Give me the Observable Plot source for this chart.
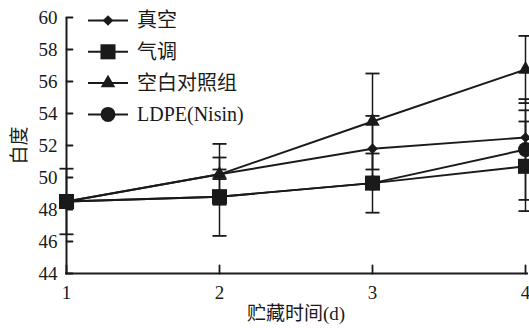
<!DOCTYPE html>
<html>
<head>
<meta charset="utf-8">
<script src="https://cdn.jsdelivr.net/npm/d3@7"></script>
<script src="https://cdn.jsdelivr.net/npm/@observablehq/plot@0.6"></script>
<style>
  html, body { margin: 0; padding: 0; background: #fff; }
  #chart { position: relative; width: 529px; height: 328px; }
  #chart svg, #chart svg text {
    font-family: 'Liberation Serif', 'Times New Roman', 'Noto Sans CJK SC', serif !important;
  }
  #legend { position: absolute; left: 0; top: 0; pointer-events: none; }
</style>
</head>
<body>
<div id="chart"></div>
<script>
// Storage time (days)
const days = [1, 2, 3, 4];
const xTicks = [1, 2, 3, 4];
const yTicks = [44, 46, 48, 50, 52, 54, 56, 58, 60];

// Series names
const seriesNames = ["真空", "气调", "空白对照组", "LDPE(Nisin)"];

// Whiteness means per series
const vacuum = [48.5, 50.2, 51.8, 52.5];
const modified = [48.5, 48.8, 49.65, 50.7];
const blank = [48.5, 50.2, 53.5, 56.75];
const ldpe = [48.5, 48.8, 49.65, 51.75];

// Standard deviations per series
const vacuumErr = [0.1, 1.9, 2.05, 1.7];
const modifiedErr = [2.05, 2.45, 1.85, 2.8];
const blankErr = [0.1, 0.3, 3.0, 2.1];
const ldpeErr = [0.1, 0.2, 0.2, 3.15];

const symbols = ["diamond2", "square", "triangle", "circle"];
const radii = [4.8, 8.5, 5.4, 7.5];
const d3Symbols = {
  diamond2: d3.symbolDiamond2, square: d3.symbolSquare,
  triangle: d3.symbolTriangle, circle: d3.symbolCircle
};

const means = [vacuum, modified, blank, ldpe];
const errs = [vacuumErr, modifiedErr, blankErr, ldpeErr];

const rows = [];
seriesNames.forEach((name, s) => {
  days.forEach((d, i) => {
    rows.push({
      series: name, s, day: d, value: means[s][i],
      lo: means[s][i] - errs[s][i], hi: means[s][i] + errs[s][i]
    });
  });
});

// Horizontal cap for error bars; the dot radius gives the half width
const cap = {
  draw(context, size) {
    const w = Math.sqrt(size / Math.PI);
    context.moveTo(-w, 0);
    context.lineTo(w, 0);
  }
};

// Plain straight tick for the inward axis ticks
const tickShape = {
  draw(context, length) {
    context.moveTo(0, 0);
    context.lineTo(0, -length);
  }
};

const font = "'Liberation Serif', 'Times New Roman', 'Noto Sans CJK SC', serif";
const ink = "#1a1a1a";

const marks = [
  // axis lines
  Plot.ruleX([1], {stroke: ink, strokeWidth: 2}),
  Plot.ruleY([44], {stroke: ink, strokeWidth: 2, insetRight: -3, insetLeft: -1}),
  // inward tick marks
  Plot.vector(yTicks, {x: 1, y: d => d, length: 6, rotate: 90, anchor: "start", shape: tickShape, stroke: ink, strokeWidth: 1.8}),
  Plot.vector(xTicks, {x: d => d, y: 44, length: 8, rotate: 0, anchor: "start", shape: tickShape, stroke: ink, strokeWidth: 1.8}),
  Plot.axisY({
    ticks: yTicks, tickSize: 0, tickPadding: 9, label: "白度", labelArrow: "none",
    labelAnchor: "center", labelOffset: 54, fontSize: 19, fontFamily: font
  }),
  Plot.axisX({
    ticks: xTicks, tickSize: 0, tickPadding: 12, tickFormat: d3.format("d"),
    label: "贮藏时间(d)", labelAnchor: "center", labelArrow: "none", labelOffset: 46,
    fontSize: 19, fontFamily: font
  })
];

seriesNames.forEach((name, s) => {
  const data = rows.filter(r => r.s === s);
  marks.push(Plot.line(data, {x: "day", y: "value", stroke: ink, strokeWidth: 1.9}));
});
seriesNames.forEach((name, s) => {
  const data = rows.filter(r => r.s === s);
  marks.push(Plot.link(data, {x1: "day", x2: "day", y1: "lo", y2: "hi", stroke: ink, strokeWidth: 1.5}));
  marks.push(Plot.dot(data, {x: "day", y: "lo", symbol: cap, r: 7, stroke: ink, strokeWidth: 1.8}));
  marks.push(Plot.dot(data, {x: "day", y: "hi", symbol: cap, r: 7, stroke: ink, strokeWidth: 1.8}));
});
seriesNames.forEach((name, s) => {
  const data = rows.filter(r => r.s === s);
  marks.push(Plot.dot(data, {x: "day", y: "value", symbol: symbols[s], r: radii[s], fill: ink, stroke: "none"}));
});

const chart = Plot.plot({
  width: 529,
  height: 328,
  marginLeft: 66,
  marginRight: 4,
  marginTop: 17,
  marginBottom: 55,
  style: {fontFamily: font, fontSize: "19px", color: ink, background: "#fff", overflow: "visible"},
  x: {domain: [1, 4]},
  y: {domain: [44, 60]},
  marks
});
document.getElementById("chart").appendChild(chart);

// Legend drawn inside the plotting area, top-left
const legend = d3.select("#chart").append("svg")
  .attr("id", "legend")
  .attr("width", 529).attr("height", 328);
const legendTop = 20.5, legendStep = 31.3;
seriesNames.forEach((name, s) => {
  const g = legend.append("g").attr("transform", `translate(0,${legendTop + s * legendStep})`);
  g.append("line").attr("x1", 88).attr("x2", 128).attr("stroke", ink).attr("stroke-width", 2);
  g.append("path")
    .attr("transform", "translate(108,0)")
    .attr("d", d3.symbol(d3Symbols[symbols[s]], radii[s] * radii[s] * Math.PI)())
    .attr("fill", ink);
  g.append("text").attr("x", 137).attr("dy", "0.34em")
    .attr("font-family", font).attr("font-size", 20).attr("fill", ink)
    .text(name);
});
</script>
</body>
</html>
